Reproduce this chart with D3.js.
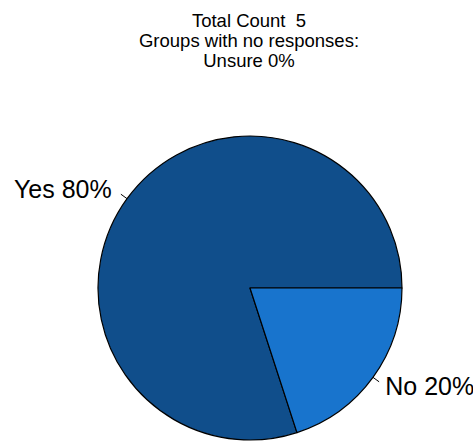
<!DOCTYPE html>
<html>
<head>
<meta charset="utf-8">
<script src="https://cdn.jsdelivr.net/npm/d3@7"></script>
<style>
  html, body { margin: 0; padding: 0; background: #fff; }
  svg { display: block; font-family: "Liberation Sans", Arial, sans-serif; }
</style>
</head>
<body>
<svg id="chart" width="473" height="441"></svg>
<script>
// ── 데이터 ──────────────────────────────────────────
const categories = ['Yes', 'No'];
const percents = [80, 20];
const totalCount = 5;
const emptyGroups = ['Unsure 0%'];

const COLOR = { Yes: '#104E8B', No: '#1874CD' };

// ── 레이아웃 ────────────────────────────────────────
const W = 473, H = 441;
const cx = 250, cy = 288, r = 152;

const svg = d3.select('#chart');

// 제목 (3줄)
const titleLines = [`Total Count  ${totalCount}`, 'Groups with no responses:', ...emptyGroups];
svg.append('g')
  .selectAll('text')
  .data(titleLines)
  .join('text')
  .attr('x', 249)
  .attr('y', (d, i) => 27 + i * 20)
  .attr('text-anchor', 'middle')
  .attr('font-size', 18.5)
  .attr('fill', '#000')
  .style('white-space', 'pre')
  .text(d => d);

// ── 파이 (R 방식: 3시 방향에서 반시계) ──────────────
const slices = categories.map((c, i) => ({ cat: c, pct: percents[i] }));
const pie = d3.pie()
  .sort(null)
  .value(d => d.pct)
  .startAngle(Math.PI / 2)
  .endAngle(Math.PI / 2 - 2 * Math.PI);

const arc = d3.arc().innerRadius(0).outerRadius(r);
const arcs = pie(slices);

const g = svg.append('g').attr('transform', `translate(${cx},${cy})`);

g.selectAll('path')
  .data(arcs)
  .join('path')
  .attr('d', arc)
  .attr('fill', d => COLOR[d.data.cat])
  .attr('stroke', '#000')
  .attr('stroke-width', 1.2)
  .attr('stroke-linejoin', 'round');

// 라벨 + 눈금선
const pos = (a, k) => [Math.sin(a) * r * k, -Math.cos(a) * r * k];

arcs.forEach(d => {
  const mid = (d.startAngle + d.endAngle) / 2;
  const [x0, y0] = pos(mid, 1);
  const [x1, y1] = pos(mid, 1.05);
  const [tx, ty] = pos(mid, 1.1);
  g.append('line')
    .attr('x1', x0).attr('y1', y0)
    .attr('x2', x1).attr('y2', y1)
    .attr('stroke', '#000')
    .attr('stroke-width', 1);
  g.append('text')
    .attr('x', tx < 0 ? tx - 3 : tx)
    .attr('y', ty)
    .attr('dy', '0.35em')
    .attr('text-anchor', tx < 0 ? 'end' : 'start')
    .attr('font-size', 25)
    .attr('fill', '#000')
    .text(`${d.data.cat} ${d.data.pct}%`);
});
</script>
</body>
</html>
